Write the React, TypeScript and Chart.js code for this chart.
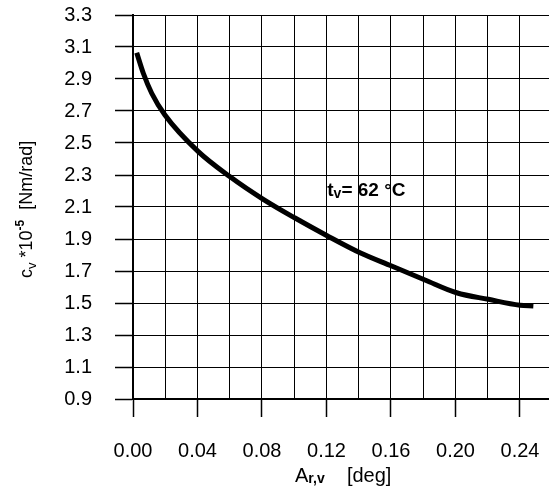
import React, { useEffect, useRef } from 'react';
import { Chart, registerables } from 'chart.js';

Chart.register(...registerables);

// Curve data: A_r,v [deg] vs c_v*10^-5 [Nm/rad]
const X_VALUES = [0.0023, 0.0064, 0.0116, 0.0198, 0.0405, 0.0602, 0.0808, 0.1005, 0.1201, 0.1408, 0.1604, 0.1811, 0.2007, 0.2204, 0.2400, 0.2483];
const Y_VALUES = [3.064, 2.936, 2.811, 2.675, 2.446, 2.289, 2.148, 2.031, 1.922, 1.814, 1.731, 1.644, 1.564, 1.523, 1.486, 1.481];

// Axis ticks
const X_GRID = [0, 0.02, 0.04, 0.06, 0.08, 0.10, 0.12, 0.14, 0.16, 0.18, 0.20, 0.22, 0.24];
const X_LABELED = [0, 0.04, 0.08, 0.12, 0.16, 0.20, 0.24];
const Y_TICKS = [0.9, 1.1, 1.3, 1.5, 1.7, 1.9, 2.1, 2.3, 2.5, 2.7, 2.9, 3.1, 3.3];

const FONT = "'Liberation Sans', Arial, sans-serif";

const isLabeled = (v: number | undefined) =>
  v !== undefined && X_LABELED.some((l) => Math.abs(l - v) < 1e-9);

type Part = { text: string; size: number; bold?: boolean; dy?: number };

function drawRich(ctx: CanvasRenderingContext2D, parts: Part[], x: number, y: number) {
  let cx = x;
  for (const p of parts) {
    ctx.font = `${p.bold ? 'bold ' : ''}${p.size}px ${FONT}`;
    ctx.fillText(p.text, cx, y + (p.dy || 0));
    cx += ctx.measureText(p.text).width;
  }
}

const textPlugin = {
  id: 'richText',
  afterDraw(chart: any) {
    const ctx: CanvasRenderingContext2D = chart.ctx;
    ctx.save();
    ctx.fillStyle = '#000';
    ctx.textBaseline = 'alphabetic';
    ctx.textAlign = 'left';

    // Y axis title (rotated)
    ctx.save();
    ctx.translate(32, 278);
    ctx.rotate(-Math.PI / 2);
    drawRich(ctx, [
      { text: 'c', size: 18 },
      { text: 'v', size: 13, dy: 4 },
      { text: ' *10', size: 18 },
      { text: '-5', size: 12, bold: true, dy: -8 },
      { text: '  [Nm/rad]', size: 18 },
    ], 0, 0);
    ctx.restore();

    // X axis title
    drawRich(ctx, [
      { text: 'A', size: 20 },
      { text: 'r,v', size: 14, bold: true, dy: 1 },
      { text: '    [deg]', size: 20 },
    ], 295, 482);

    // Annotation
    const xs = chart.scales.x;
    const ys = chart.scales.y;
    drawRich(ctx, [
      { text: 't', size: 19, bold: true },
      { text: 'v', size: 14, bold: true, dy: 2 },
      { text: '= 62 °C', size: 19, bold: true },
    ], xs.getPixelForValue(0.1205), ys.getPixelForValue(2.169));

    ctx.restore();
  },
};

export default function App() {
  const ref = useRef<HTMLCanvasElement | null>(null);

  useEffect(() => {
    if (!ref.current) return;
    const data = X_VALUES.map((x, i) => ({ x, y: Y_VALUES[i] }));
    const chart = new Chart(ref.current, {
      type: 'line',
      data: {
        datasets: [
          {
            data,
            borderColor: '#000',
            borderWidth: 5,
            pointRadius: 0,
            fill: false,
            cubicInterpolationMode: 'monotone',
            borderCapStyle: 'butt',
          } as any,
        ],
      },
      options: {
        animation: false,
        responsive: false,
        layout: { padding: { top: 15, left: 0, right: 0, bottom: 0 } },
        plugins: { legend: { display: false }, tooltip: { enabled: false } },
        scales: {
          x: {
            type: 'linear',
            min: 0,
            max: 0.258,
            afterBuildTicks: (s: any) => {
              s.ticks = X_GRID.map((v) => ({ value: v }));
            },
            afterFit: (s: any) => {
              s.height = 90;
              s.paddingLeft = 0;
              s.paddingRight = 0;
            },
            grid: {
              color: '#000',
              lineWidth: 1,
              tickLength: 18,
              tickWidth: 1.5,
              tickColor: (c: any) => (isLabeled(c.tick?.value) ? '#000' : 'rgba(0,0,0,0)'),
            },
            border: { color: '#000', width: 2 },
            ticks: {
              autoSkip: false,
              maxRotation: 0,
              minRotation: 0,
              padding: 22,
              color: '#000',
              font: { family: FONT, size: 20 },
              callback: (v: any) => (isLabeled(Number(v)) ? Number(v).toFixed(2) : ''),
            },
          },
          y: {
            type: 'linear',
            min: 0.9,
            max: 3.3,
            afterBuildTicks: (s: any) => {
              s.ticks = Y_TICKS.map((v) => ({ value: v }));
            },
            afterFit: (s: any) => {
              s.width = 133;
              s.paddingTop = 0;
              s.paddingBottom = 0;
            },
            grid: {
              color: '#000',
              lineWidth: 1,
              tickLength: 18,
              tickWidth: 1.5,
              tickColor: '#000',
            },
            border: { color: '#000', width: 2 },
            ticks: {
              autoSkip: false,
              padding: 23,
              color: '#000',
              font: { family: FONT, size: 20 },
              callback: (v: any) => Number(v).toFixed(1),
            },
          },
        },
      },
      plugins: [textPlugin],
    });
    return () => chart.destroy();
  }, []);

  return (
    <div style={{ position: 'absolute', left: 0, top: 0, width: 549, height: 489, background: '#fff' }}>
      <canvas ref={ref} width={549} height={489} style={{ width: 549, height: 489, display: 'block' }} />
    </div>
  );
}
